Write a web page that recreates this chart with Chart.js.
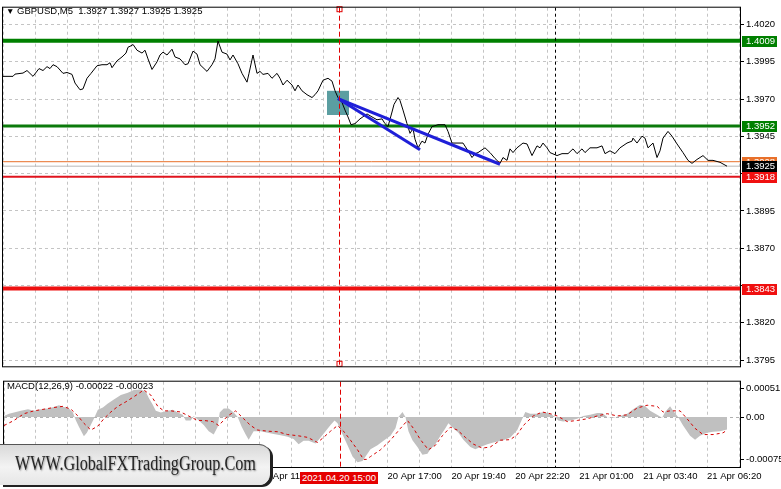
<!DOCTYPE html>
<html>
<head>
<meta charset="utf-8">
<script src="https://cdn.jsdelivr.net/npm/chart.js@4.4.1/dist/chart.umd.min.js"></script>
<style>
  body { margin: 0; background: #fff; }
  #wrap { position: relative; width: 781px; height: 489px; overflow: hidden; font-family: "Liberation Sans", Arial, sans-serif; }
  canvas { position: absolute; left: 0; }
  #priceChart { top: 0; }
  #macdChart { top: 374px; }
  .title { position: absolute; left: 6px; top: 5px; font-size: 9.5px; line-height: 12px; color: #000; white-space: pre; }
  .title b { font-weight: normal; font-size: 8.5px; vertical-align: 0; }
  .macdTitle { position: absolute; left: 7px; top: 380px; font-size: 9.5px; line-height: 12px; color: #000; white-space: pre; }
  #timeBox { position: absolute; left: 300px; top: 472px; width: 78px; height: 12px; background: #e50000; color: #fff; font-size: 9.5px; line-height: 12px; text-align: center; }
  #wm { position: absolute; left: 0; top: 444px; width: 270px; height: 40px; background: linear-gradient(#d9d9d9, #f3f3f3 55%, #e6e6e6); border-top: 1px solid #555; border-radius: 0 11px 11px 0; box-shadow: 3px 2px 0 #222; }
  #wm span { position: absolute; left: 15px; top: 8px; font-family: "Liberation Serif", "Times New Roman", serif; font-size: 20px; line-height: 20px; color: #262626; transform: scaleX(0.81); transform-origin: 0 0; text-shadow: 1px 1px 2px #8a8a8a; white-space: nowrap; }
</style>
</head>
<body>
<div id="wrap">
  <canvas id="priceChart" width="781" height="374"></canvas>
  <canvas id="macdChart" width="781" height="115"></canvas>
  <div class="title"><b>▼</b> GBPUSD,M5  1.3927 1.3927 1.3925 1.3925</div>
  <div class="macdTitle">MACD(12,26,9) -0.00022 -0.00023</div>
  <div id="timeBox">2021.04.20 15:00</div>
  <div id="wm"><span>WWW.GlobalFXTradingGroup.Com</span></div>
</div>
<script>
// bar index (M5, bar 0 = 20 Apr 01:00) and close price
const priceSeries = [
  [0,1.39852],[5,1.39852],[6,1.39867],[10,1.39874],[12,1.39891],[15,1.39852],[18,1.39904],[20,1.39891],
  [22,1.39917],[23.5,1.39904],[25,1.3993],[27,1.39917],[30,1.39872],[32,1.39878],[34.5,1.39865],[36,1.39807],
  [38.5,1.39762],[40,1.39768],[42,1.39839],[44,1.39872],[47,1.39923],[49.5,1.3993],[52,1.3993],[53.5,1.39943],
  [54.5,1.3991],[57,1.39956],[59.5,1.39982],[61.5,1.40008],[62.5,1.40047],[64.5,1.4006],[65,1.40066],[67,1.40027],
  [69.5,1.40008],[71,1.40027],[72.5,1.39969],[74.5,1.39898],[77,1.39949],[78.5,1.39995],[80,1.40014],[82,1.39995],
  [84.5,1.40034],[86,1.39982],[88.5,1.39969],[91,1.3993],[92.5,1.39936],[95,1.40021],[97,1.40001],[98.5,1.3993],
  [102,1.39885],[104.5,1.3993],[106,1.39969],[107.5,1.40088],[109.5,1.40014],[112,1.40001],[113.5,1.39962],[115,1.39995],
  [117.5,1.39936],[119.5,1.39872],[122,1.39813],[123,1.39872],[125,1.39995],[127,1.39872],[128.5,1.39885],[130,1.39865],
  [132.5,1.39872],[134.5,1.39839],[137,1.39872],[138.5,1.39839],[140,1.39794],[142,1.39826],[144.5,1.39794],[146,1.39755],
  [147.5,1.39794],[149.5,1.39755],[152,1.39729],[154.5,1.3971],[156,1.39729],[157.5,1.39755],[160,1.39826],[162.5,1.39839],
  [164.5,1.3982],[166,1.39755],[167.5,1.3971],[169.5,1.39677],[171,1.39626],[172.5,1.3958],[174,1.39528],[176,1.39535],
  [178.5,1.39567],[182,1.396],[184.5,1.3958],[187,1.39561],[189.5,1.39567],[191,1.39535],[192.5,1.39515],[194.5,1.39613],
  [195.5,1.39664],[197.5,1.3971],[198.5,1.3969],[200,1.39626],[202,1.39535],[203.5,1.3947],[205,1.39502],[206,1.39431],
  [207.5,1.39373],[209.5,1.39418],[211,1.39405],[212.5,1.39464],[214.5,1.39515],[217.5,1.39528],[221,1.39528],[222.5,1.39483],
  [224.5,1.39405],[227.5,1.39405],[230,1.39405],[232.5,1.39353],[234.5,1.39308],[236,1.39334],[237.5,1.39341],[241,1.39373],
  [243.5,1.39341],[246,1.39302],[248.5,1.39269],[250,1.39308],[252,1.39289],[253.5,1.39366],[255,1.39341],[257,1.39373],
  [260,1.39405],[262,1.39399],[264.5,1.39321],[267,1.39386],[268.5,1.39373],[270,1.39405],[272,1.39373],[273.5,1.39341],
  [277,1.39321],[279.5,1.39334],[282.5,1.39334],[285,1.39366],[287,1.39334],[289.5,1.39366],[291,1.39341],[293.5,1.39373],
  [297,1.39373],[299.5,1.39386],[301,1.39334],[303.5,1.39353],[306,1.39334],[308.5,1.39373],[312,1.39405],[314.5,1.39418],
  [315,1.39438],[317,1.39405],[319.5,1.39451],[321,1.39438],[322.5,1.39373],[325,1.39405],[327,1.39308],[328.5,1.39353],
  [330,1.39438],[332.5,1.39483],[334.5,1.39451],[337,1.39399],[340,1.39341],[342.5,1.39289],[344.5,1.39269],[347,1.39295],
  [350,1.39321],[352.5,1.39289],[355,1.39289],[358.5,1.39276],[362,1.3925]
];

// MACD histogram (main line) and signal
const histSeries = [
  [0,0.00002],[2.5,0.00006],[5,0.00008],[8.5,0.00011],[12,0.00014],[15,0.00011],[18.5,0.00014],[22,0.00015],
  [25,0.00018],[27.5,0.00021],[30,0.00018],[32.5,0.00015],[34.5,0.00008],[36,-0.00006],[37.5,-0.00017],[40,-0.00034],
  [41.5,-0.00028],[43,-0.00017],[45,-0.00003],[47,0.00013],[49.5,0.00017],[52,0.00024],[55,0.00031],[58.5,0.00039],
  [62,0.00043],[65,0.00048],[68.5,0.00049],[71,0.00045],[72.5,0.00034],[74.5,0.00022],[76,0.00011],[78.5,0.00008],
  [82,0.00011],[84.5,0.00013],[87,0.00008],[89.5,0.00004],[91,-0.00006],[93.5,-0.00006],[95,0.00002],[97.5,-0.00006],
  [100,-0.00014],[102.5,-0.00025],[105,-0.00031],[107,-0.00017],[108,0.00008],[110,0.00015],[112.5,0.00015],[115,0.00008],
  [117,0],[119,-0.00017],[121,-0.00031],[122.5,-0.0004],[125,-0.00025],[128.5,-0.00025],[132,-0.00028],[135,-0.0003],
  [138.5,-0.00032],[142,-0.00035],[145,-0.00039],[147.5,-0.00048],[150,-0.00042],[152.5,-0.00042],[156,-0.00047],[158.5,-0.00036],
  [161,-0.00025],[163.5,-0.00014],[165.5,-0.00006],[167,-0.00011],[169.5,-0.00031],[172,-0.0005],[174.5,-0.0007],[177,-0.0008],
  [179.5,-0.00078],[183.5,-0.00057],[187,-0.0005],[190,-0.00042],[193.5,-0.00033],[196,-0.0002],[197.5,0],[199.5,0.00009],
  [201,0],[202.5,-0.00025],[204.5,-0.00041],[207,-0.00053],[209.5,-0.00067],[212,-0.00065],[213.5,-0.00057],[216,-0.00048],
  [218.5,-0.00033],[221,-0.0002],[222.5,-0.00011],[225,-0.0002],[227.5,-0.00028],[230,-0.0004],[233.5,-0.00053],[236,-0.00057],
  [238.5,-0.00053],[242,-0.00048],[245,-0.00045],[250,-0.00041],[253.5,-0.00036],[257,-0.00023],[259.5,-0.00003],[261,0.00009],
  [263.5,0.00006],[267,0.00006],[270,0.00009],[273.5,0.00006],[276,0],[277.5,-0.00006],[280,-0.00008],[283.5,-0.00006],
  [287,-0.00003],[290,0.00002],[293.5,0.00004],[297,0.00007],[299.5,0.00007],[302,0],[305,-0.00001],[308.5,0.00002],
  [312,0.00006],[315,0.00014],[318.5,0.00022],[321,0.00019],[323.5,0.00011],[327,0.00004],[329.5,-0.00001],[331,0.00009],
  [333.5,0.00019],[335,0.00011],[337.5,0],[340,-0.00015],[343.5,-0.00033],[346,-0.0004],[348.5,-0.00033],[352,-0.00028],
  [355,-0.00026],[358.5,-0.00025],[362,-0.00022]
];
const signalSeries = [
  [0,-0.00015],[5,-0.00006],[10,0.00006],[15,0.00011],[20,0.00014],[25,0.00017],[29.5,0.00019],[33.5,0.00014],
  [37,0.00002],[40,-0.00011],[43.5,-0.00023],[47,-0.00016],[50,-0.00003],[53.5,0.00009],[57,0.00019],[61,0.00027],
  [65,0.00036],[70,0.00048],[73.5,0.00039],[77,0.00019],[80,0.00011],[83.5,0.00011],[88.5,0.00009],[93.5,0],
  [97,-0.00006],[100,-0.00006],[104.5,-0.00008],[107.5,-0.00015],[112,0.00002],[116,0.00011],[120,-0.00003],[123.5,-0.00015],
  [127,-0.00023],[132,-0.00025],[137,-0.00026],[142,-0.00031],[147,-0.00033],[152,-0.00036],[157,-0.00045],[160,-0.00036],
  [163.5,-0.00025],[167,-0.00015],[170,-0.00025],[173.5,-0.00041],[177,-0.00058],[180,-0.00075],[181.5,-0.00075],[183.5,-0.0007],
  [188.5,-0.00058],[193.5,-0.00041],[198.5,-0.0002],[202,-0.00006],[205,-0.0002],[208.5,-0.0004],[212.5,-0.00058],[216,-0.0005],
  [219.5,-0.00033],[223.5,-0.00018],[227,-0.00023],[231,-0.00036],[235,-0.00048],[239.5,-0.00055],[243.5,-0.00053],[248.5,-0.00041],
  [253.5,-0.0004],[257,-0.00031],[260,-0.00015],[265,0.00002],[269.5,0.00009],[273.5,0.00006],[277,0.00002],[282,-0.00008],
  [287,-0.00006],[292,-0.00003],[297,0.00002],[302,0.00006],[307,0.00002],[312,0.00004],[317,0.00016],[322,0.00021],
  [327,0.00019],[330,0.00009],[333.5,0.00011],[338.5,0.00011],[342,-0.00003],[346,-0.0002],[350,-0.00031],[355,-0.00031],
  [360,-0.00028],[362,-0.00023]
];

// horizontal levels: resistance, support, ask, bid, targets
const levelPrices = [1.4009, 1.3952, 1.3928, 1.3925, 1.3918, 1.3843];
const priceTicks = [1.4020, 1.3995, 1.3970, 1.3945, 1.3920, 1.3895, 1.3870, 1.3845, 1.3820, 1.3795];
const hiddenTicks = ['1.3920', '1.3845'];
const macdTicks = [0.00051, 0, -0.00075];
const timeLabels = ['20 Apr 01:00', '20 Apr 03:40', '20 Apr 06:20', '20 Apr 09:00', '20 Apr 11:40', '20 Apr 14:20',
  '20 Apr 17:00', '20 Apr 19:40', '20 Apr 22:20', '21 Apr 01:00', '21 Apr 03:40', '21 Apr 06:20'];
const markerBars = [168, 276];
const trendApex = [167.5, 1.39703];
const trendEnds = [[208.5, 1.3936], [248.5, 1.39263]];
const entryZone = [162, 173, 1.39755, 1.39593];

const barMax = 368.5;
const levelStyle = [
  { line: '#008000', width: 4, box: '#008000' },
  { line: '#0b7a0b', width: 3, box: '#008000' },
  { line: '#e8702a', width: 1, box: '#e8702a' },
  { line: '#b8b8b8', width: 1, box: '#000000' },
  { line: '#e0141e', width: 2, box: '#f01010' },
  { line: '#ee1111', width: 4, box: '#f01010' },
];

Chart.defaults.font.family = '"Liberation Sans", Arial, sans-serif';
Chart.defaults.font.size = 9.5;
Chart.defaults.color = '#000';

const toXY = (arr) => arr.map((p) => ({ x: p[0], y: p[1] }));
const gridTicks = [];
for (let b = 0; b <= 368; b += 16) gridTicks.push(b);

// vertical markers + panel frame, shared by both panels
function drawMarkers(chart, withSquares) {
  const { ctx, chartArea, scales } = chart;
  ctx.save();
  ctx.lineWidth = 1;
  markerBars.forEach((b, i) => {
    const x = Math.round(scales.x.getPixelForValue(b)) + 0.5;
    ctx.strokeStyle = i === 0 ? '#e00000' : '#000';
    ctx.setLineDash(i === 0 ? [5, 3] : [3, 3]);
    ctx.beginPath();
    ctx.moveTo(x, chartArea.top);
    ctx.lineTo(x, chartArea.bottom);
    ctx.stroke();
    if (i === 0 && withSquares) {
      ctx.setLineDash([]);
      ctx.strokeRect(x - 2.5, chartArea.top - 1, 5, 5);
      ctx.strokeRect(x - 2.5, chartArea.bottom - 5, 5, 5);
    }
  });
  ctx.setLineDash([]);
  ctx.strokeStyle = '#000';
  ctx.strokeRect(chartArea.left - 0.5, chartArea.top - 0.5, chartArea.width + 1, chartArea.height + 1);
  ctx.restore();
}

const pricePlugin = {
  id: 'pricePlugin',
  beforeDatasetsDraw(chart) {
    const { ctx, scales } = chart;
    const x1 = scales.x.getPixelForValue(entryZone[0]);
    const x2 = scales.x.getPixelForValue(entryZone[1]);
    const y1 = scales.y.getPixelForValue(entryZone[2]);
    const y2 = scales.y.getPixelForValue(entryZone[3]);
    ctx.save();
    ctx.fillStyle = '#5b9ea1';
    ctx.fillRect(x1, y1, x2 - x1, y2 - y1);
    ctx.restore();
  },
  afterDatasetsDraw(chart) {
    drawMarkers(chart, true);
  },
  afterDraw(chart) {
    const { ctx, chartArea, scales } = chart;
    ctx.save();
    ctx.font = '9.5px "Liberation Sans", Arial, sans-serif';
    ctx.textBaseline = 'middle';
    levelPrices.forEach((p, i) => {
      const y = Math.round(scales.y.getPixelForValue(p));
      ctx.fillStyle = levelStyle[i].box;
      ctx.fillRect(chartArea.right + 2, y - 5, 35, 11);
      ctx.fillStyle = '#fff';
      ctx.fillText(p.toFixed(4), chartArea.right + 6, y + 0.5);
    });
    ctx.restore();
  }
};

const macdPlugin = {
  id: 'macdPlugin',
  afterDatasetsDraw(chart) {
    drawMarkers(chart, false);
  }
};

const trendSets = trendEnds.map((e) => ({
  data: [{ x: trendApex[0], y: trendApex[1] }, { x: e[0], y: e[1] }],
  borderColor: '#1f1fd8', borderWidth: 3, pointRadius: 0
}));

const levelSets = levelPrices.map((p, i) => ({
  data: [{ x: 0, y: p }, { x: barMax, y: p }],
  borderColor: levelStyle[i].line, borderWidth: levelStyle[i].width, pointRadius: 0, borderCapStyle: 'butt'
}));

new Chart(document.getElementById('priceChart'), {
  type: 'line',
  data: {
    datasets: [
      ...trendSets,
      { data: toXY(priceSeries), borderColor: '#000', borderWidth: 1, pointRadius: 0, tension: 0 },
      ...levelSets
    ]
  },
  options: {
    responsive: false,
    devicePixelRatio: 1,
    animation: false,
    layout: { padding: { top: 2, left: 3, right: 0, bottom: 1 } },
    plugins: { legend: { display: false }, tooltip: { enabled: false } },
    scales: {
      x: {
        type: 'linear', min: 0, max: barMax,
        afterBuildTicks: (s) => { s.ticks = gridTicks.map((v) => ({ value: v })); },
        afterFit: (s) => { s.height = 0; },
        ticks: { display: false },
        grid: { color: '#c4c4c4', drawTicks: false },
        border: { display: false, dash: [3, 3] }
      },
      y: {
        position: 'right', min: 1.37909, max: 1.40312,
        afterBuildTicks: (s) => { s.ticks = priceTicks.map((v) => ({ value: v })); },
        afterFit: (s) => { s.width = 41; },
        ticks: {
          padding: 2,
          callback: (v) => {
            const t = Number(v).toFixed(4);
            return hiddenTicks.includes(t) ? '' : t;
          }
        },
        grid: { color: '#c4c4c4', tickLength: 4, tickColor: '#000', tickBorderDash: [] },
        border: { display: false, dash: [3, 3] }
      }
    }
  },
  plugins: [pricePlugin]
});

new Chart(document.getElementById('macdChart'), {
  type: 'line',
  data: {
    datasets: [
      { data: toXY(signalSeries), borderColor: '#d40000', borderWidth: 1, borderDash: [3, 3], pointRadius: 0 },
      { data: toXY(histSeries), borderWidth: 0, borderColor: 'rgba(0,0,0,0)', backgroundColor: '#c0c0c0', fill: 'origin', pointRadius: 0 }
    ]
  },
  options: {
    responsive: false,
    devicePixelRatio: 1,
    animation: false,
    layout: { padding: { top: 3, left: 3, right: 0, bottom: 0 } },
    plugins: { legend: { display: false }, tooltip: { enabled: false } },
    scales: {
      x: {
        type: 'linear', min: 0, max: barMax,
        afterBuildTicks: (s) => { s.ticks = gridTicks.map((v) => ({ value: v })); },
        afterFit: (s) => { s.height = 22; },
        ticks: {
          autoSkip: false, maxRotation: 0, minRotation: 0, align: 'start', padding: 4,
          callback: (v) => (v % 32 === 0 ? timeLabels[v / 32] : '')
        },
        grid: { color: '#c4c4c4', drawTicks: false },
        border: { display: false, dash: [3, 3] }
      },
      y: {
        position: 'right', min: -0.000885, max: 0.000627,
        afterBuildTicks: (s) => { s.ticks = macdTicks.map((v) => ({ value: v })); },
        afterFit: (s) => { s.width = 41; },
        ticks: { padding: 2, callback: (v) => (v === 0 ? '0.00' : Number(v).toFixed(5)) },
        grid: {
          color: (c) => (c.tick && c.tick.value === 0 ? '#b0b0b0' : 'rgba(0,0,0,0)'),
          tickLength: 4, tickColor: '#000', tickBorderDash: []
        },
        border: { display: false, dash: [3, 3] }
      }
    }
  },
  plugins: [macdPlugin]
});
</script>
</body>
</html>
